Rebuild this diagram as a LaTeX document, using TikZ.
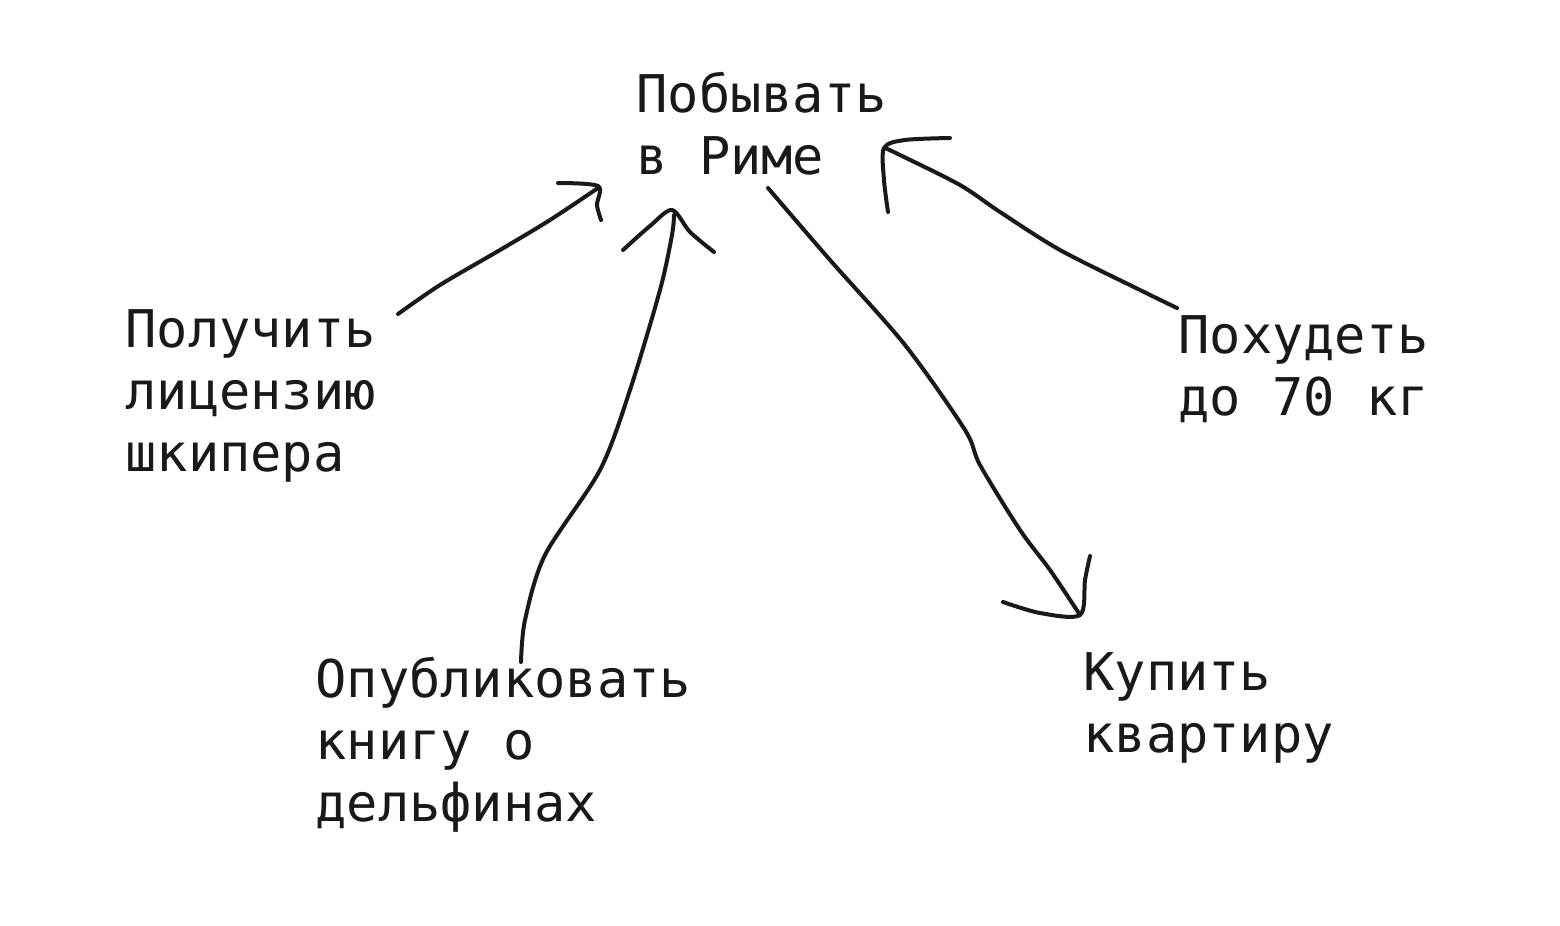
\documentclass[tikz,border=0pt]{standalone}
\usepackage{fontspec}
\setmonofont{DejaVu Sans Mono}
\begin{document}
\begin{tikzpicture}[x=0.5pt,y=-0.5pt,
  lbl/.style={anchor=north west,inner sep=0pt,align=left,font=\ttfamily\fontsize{26pt}{31pt}\selectfont,text=black!90},
  hand/.style={line width=2pt,line cap=round,line join=round,black!90}]
\useasboundingbox (0,0) rectangle (1560,926);
\fill[white] (0,0) rectangle (1560,926);
\node[lbl] (rome) at (636,72) {Побывать\\в Риме};
\node[lbl] (lic) at (125,309) {Получить\\лицензию\\шкипера};
\node[lbl] (wt) at (1178,315) {Похудеть\\до 70 кг};
\node[lbl] (book) at (315,657) {Опубликовать\\книгу о\\дельфинах};
\node[lbl] (flat) at (1083,652) {Купить\\квартиру};
% arrow 1
\draw[hand] plot[smooth] coordinates {(398,314) (440,285) (500,250) (550,220) (598,188)};
\draw[hand] plot[smooth] coordinates {(558,183) (598,186) (597,205) (601,220)};
% arrow 2
\draw[hand] plot[smooth] coordinates {(521,662) (525,620) (545,555) (600,470) (630,390) (660,290) (672,235) (674,215)};
\draw[hand] plot[smooth] coordinates {(623,250) (650,226) (672,210) (690,232) (714,252)};
% arrow 3
\draw[hand] plot[smooth] coordinates {(768,188) (830,260) (905,345) (965,430) (980,465) (1020,530) (1050,570) (1080,615)};
\draw[hand] plot[smooth] coordinates {(1003,602) (1040,613) (1080,615) (1085,580) (1090,556)};
% arrow 4
\draw[hand] plot[smooth] coordinates {(1177,308) (1140,290) (1060,250) (1000,212) (960,185) (900,155) (885,148)};
\draw[hand] plot[smooth] coordinates {(888,212) (884,180) (884,148) (905,140) (950,138)};
\end{tikzpicture}
\end{document}
